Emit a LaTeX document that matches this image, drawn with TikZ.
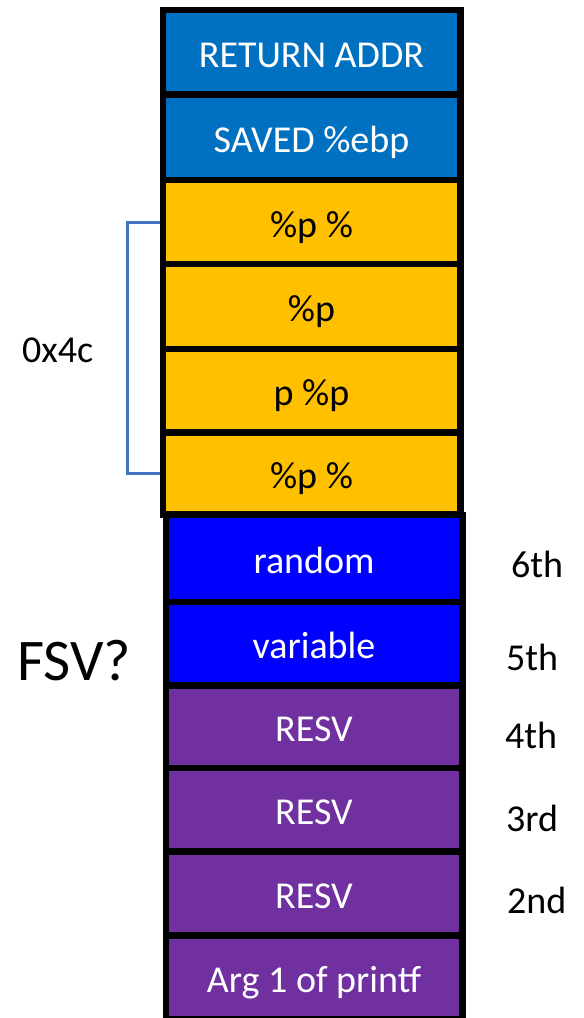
\documentclass[tikz,border=0pt]{standalone}
\usepackage{fontspec}
\setmainfont{Carlito}
\definecolor{frameblue}{HTML}{0070C0}
\definecolor{fmtorange}{HTML}{FFC000}
\definecolor{varblue}{HTML}{0000FF}
\definecolor{resvpurple}{HTML}{7030A0}
\definecolor{bracketblue}{HTML}{4472C4}
\newcommand{\cellfont}{\fontsize{38}{42}\selectfont}
\tikzset{
  cell/.style={draw=black, line width=6.5pt, inner sep=0pt,
    font=\cellfont, text height=30pt, text depth=0pt},
  upper/.style={cell, minimum width=297.5pt},
  lower/.style={cell, minimum width=296.5pt},
  argno/.style={font=\cellfont, anchor=base west, inner sep=0pt},
}
\begin{document}
\begin{tikzpicture}[x=1pt, y=-1pt]
\useasboundingbox (0,0) rectangle (584,1018);

% stack frame of the caller: return address, saved base pointer, format string
\node[upper, fill=frameblue, text=white, minimum height=84.5pt] (ret) at (311.5,52.25) {RETURN ADDR};
\node[upper, fill=frameblue, text=white, minimum height=85.5pt] (ebp) at (311.5,137.25) {SAVED \%ebp};
\node[upper, fill=fmtorange, text=black, minimum height=84pt] (o1) at (311.5,222) {\%p \%};
\node[upper, fill=fmtorange, text=black, minimum height=85pt] (o2) at (311.5,306.5) {\%p};
\node[upper, fill=fmtorange, text=black, minimum height=83.5pt] (o3) at (311.5,390.75) {p \%p};
\node[upper, fill=fmtorange, text=black, minimum height=82pt] (o4) at (311.5,473.5) {\%p \%};

% printf frame
\node[lower, fill=varblue, text=white, minimum height=87pt] (rnd) at (314,558.5) {random};
\node[lower, fill=varblue, text=white, minimum height=83.5pt] (var) at (314,643.75) {variable};
\node[lower, fill=resvpurple, text=white, minimum height=82.5pt] (rs1) at (314,726.75) {RESV};
\node[lower, fill=resvpurple, text=white, minimum height=83.5pt] (rs2) at (314,809.75) {RESV};
\node[lower, fill=resvpurple, text=white, minimum height=84pt] (rs3) at (314,893.5) {RESV};
\node[lower, fill=resvpurple, text=white, minimum height=83.5pt] (arg) at (314,977.25) {Arg 1 of printf};

% argument positions
\node[argno] (n6) at (511,577) {6th};
\node[argno] (n5) at (506,670) {5th};
\node[argno] (n4) at (505,748) {4th};
\node[argno] (n3) at (506,831) {3rd};
\node[argno] (n2) at (507,913) {2nd};

% size of the format string region
\draw[bracketblue, line width=3pt] (o1.west) -- ++(-32.5,0) |- (o4.west);
\node[font=\cellfont, anchor=base west, inner sep=0pt] (size) at (22,362) {0x4c};
\node[font=\fontsize{59}{64}\selectfont, anchor=base west, inner sep=0pt] (fsv) at (17,680) {FSV?};
\end{tikzpicture}
\end{document}
